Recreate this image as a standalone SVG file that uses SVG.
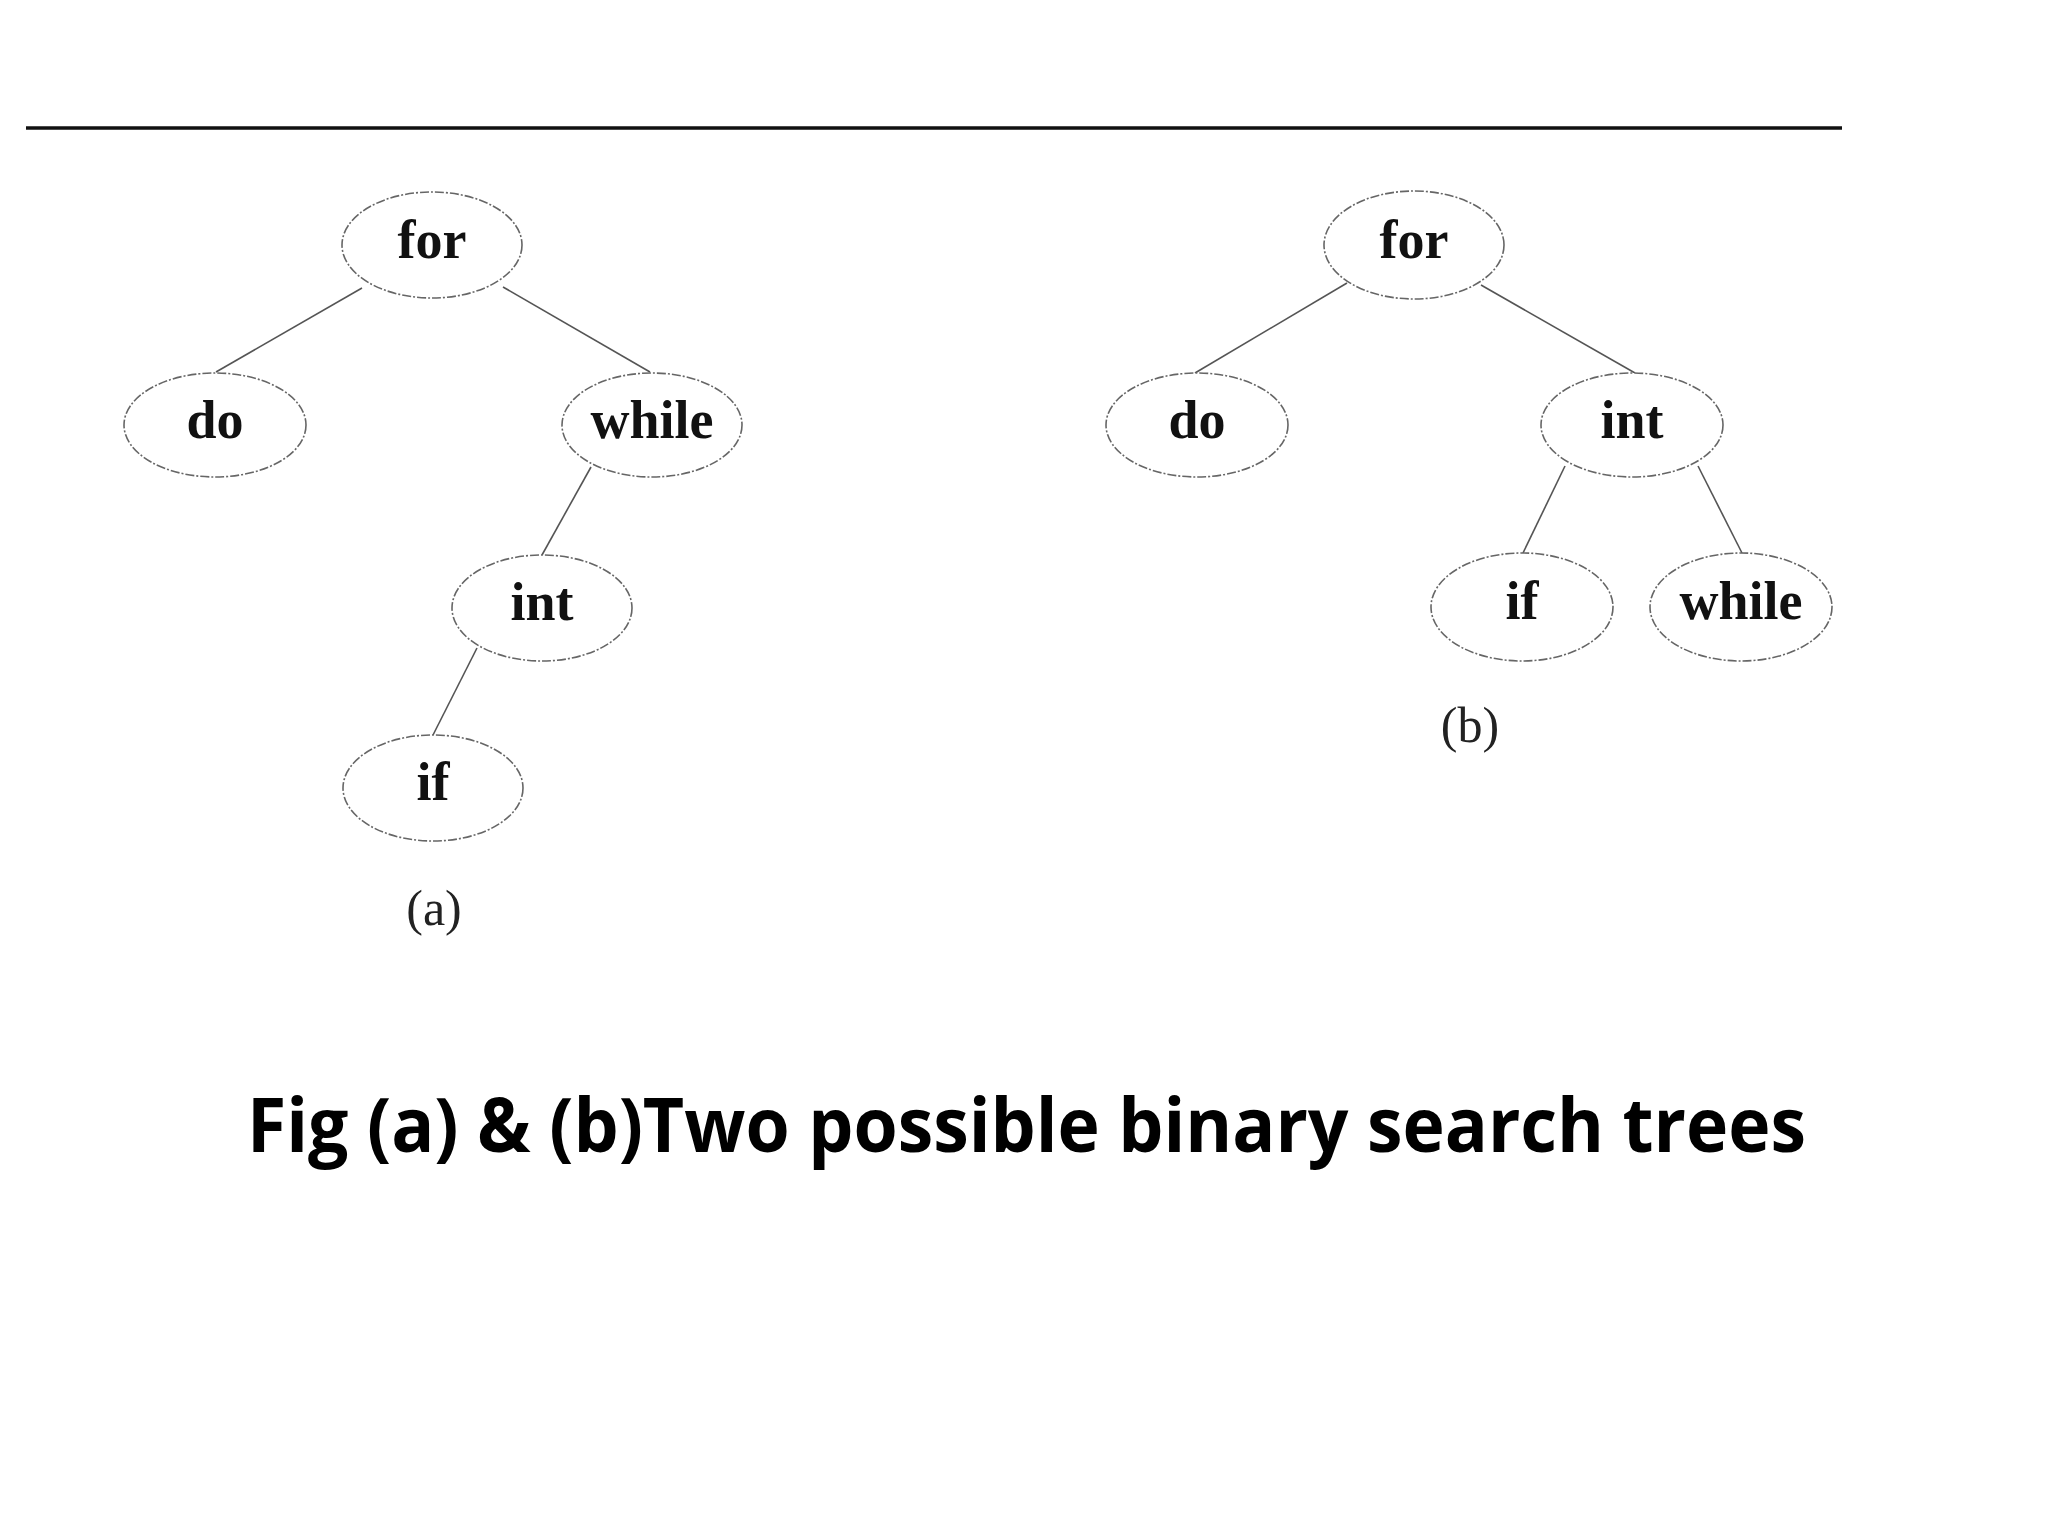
<svg xmlns="http://www.w3.org/2000/svg" width="2048" height="1536" viewBox="0 0 2048 1536">
<style>
.n ellipse{fill:#fff;stroke:#666;stroke-width:1.6;stroke-dasharray:9 2 2 2}
.n text{font-family:"Liberation Serif",serif;font-weight:bold;font-size:54px;text-anchor:middle;fill:#111}
.e line{stroke:#555;stroke-width:1.6}
.cap{font-family:"Liberation Serif",serif;font-size:50px;text-anchor:middle;fill:#222}
.title{font-family:"Open Sans","Noto Sans",sans-serif;font-weight:bold;font-size:76px;fill:#000}
</style>
<rect width="2048" height="1536" fill="#fff"/>
<line x1="26" y1="128" x2="1842" y2="128" stroke="#111" stroke-width="3.5"/>
<g id="connectors" class="e">
<line x1="362" y1="288" x2="216" y2="372"/>
<line x1="503" y1="287" x2="650" y2="372"/>
<line x1="591" y1="467" x2="542" y2="555"/>
<line x1="477" y1="648" x2="433" y2="735"/>
<line x1="1347" y1="283" x2="1195" y2="373"/>
<line x1="1481" y1="285" x2="1635" y2="373"/>
<line x1="1565" y1="466" x2="1523" y2="553"/>
<line x1="1698" y1="466" x2="1742" y2="553"/>
</g>
<g id="a-for" class="n"><ellipse cx="432" cy="245" rx="90" ry="53"/><text x="432" y="258">for</text></g>
<g id="a-do" class="n"><ellipse cx="215" cy="425" rx="91" ry="52"/><text x="215" y="438">do</text></g>
<g id="a-while" class="n"><ellipse cx="652" cy="425" rx="90" ry="52"/><text x="652" y="438">while</text></g>
<g id="a-int" class="n"><ellipse cx="542" cy="608" rx="90" ry="53"/><text x="542" y="620">int</text></g>
<g id="a-if" class="n"><ellipse cx="433" cy="788" rx="90" ry="53"/><text x="433" y="800">if</text></g>
<text class="cap" x="434" y="925">(a)</text>
<g id="b-for" class="n"><ellipse cx="1414" cy="245" rx="90" ry="54"/><text x="1414" y="258">for</text></g>
<g id="b-do" class="n"><ellipse cx="1197" cy="425" rx="91" ry="52"/><text x="1197" y="438">do</text></g>
<g id="b-int" class="n"><ellipse cx="1632" cy="425" rx="91" ry="52"/><text x="1632" y="438">int</text></g>
<g id="b-if" class="n"><ellipse cx="1522" cy="607" rx="91" ry="54"/><text x="1522" y="619">if</text></g>
<g id="b-while" class="n"><ellipse cx="1741" cy="607" rx="91" ry="54"/><text x="1741" y="619">while</text></g>
<text class="cap" x="1470" y="742">(b)</text>
<text class="title" x="247" y="1152" textLength="1559" lengthAdjust="spacingAndGlyphs">Fig (a) &amp; (b)Two possible binary search trees</text>
</svg>
